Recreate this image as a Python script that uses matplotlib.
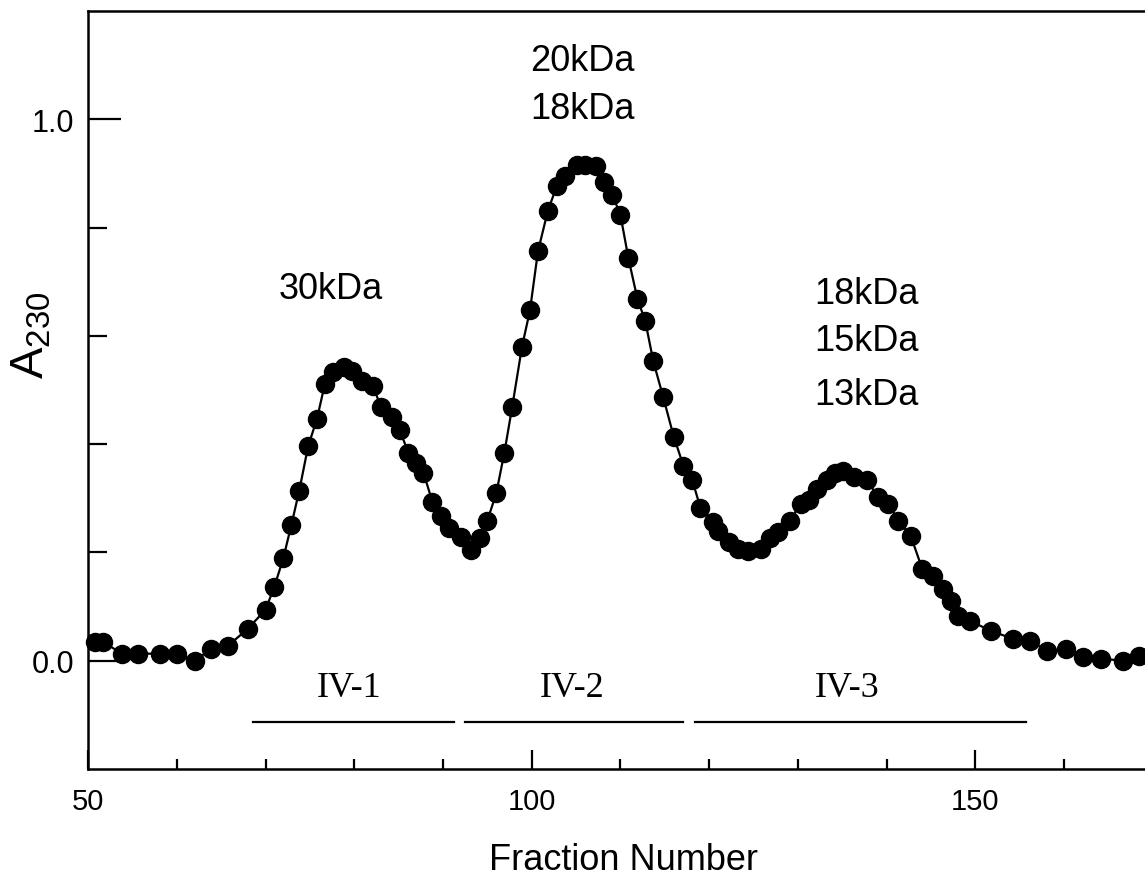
import numpy as np
import matplotlib
matplotlib.use("Agg")
import matplotlib.pyplot as plt
from matplotlib.ticker import FixedLocator

plt.rcParams['font.family'] = ['Liberation Sans', 'DejaVu Sans']
plt.rcParams['mathtext.default'] = 'regular'

# fraction number vs absorbance at 230 nm
fraction = [50.8, 51.7, 53.8, 55.6, 58.1, 60.0, 62.0, 63.9, 65.8, 68.0,
            70.0, 71.0, 72.0, 72.9, 73.8, 74.8, 75.8, 76.7, 77.6, 78.8,
            79.8, 80.9, 82.1, 83.0, 84.2, 85.1, 86.1, 87.0, 87.8, 88.8,
            89.8, 90.7, 92.0, 93.2, 94.2, 95.0, 96.0, 96.9, 97.8, 98.9,
            99.8, 100.7, 101.8, 102.8, 103.8, 105.1, 106.0, 107.2, 108.1, 109.1,
            110.0, 110.9, 111.9, 112.8, 113.7, 114.8, 116.0, 117.1, 118.1, 119.0,
            120.4, 121.0, 122.2, 123.3, 124.4, 125.8, 126.9, 127.8, 129.1, 130.3,
            131.2, 132.2, 133.3, 134.2, 135.1, 136.3, 137.8, 139.0, 140.2, 141.3,
            142.7, 144.0, 145.2, 146.4, 147.2, 148.0, 149.4, 151.7, 154.2, 156.2,
            158.1, 160.2, 162.1, 164.1, 166.6, 168.4]
a230 = [0.035, 0.035, 0.013, 0.013, 0.013, 0.013, 0.000, 0.022, 0.028, 0.059,
        0.094, 0.137, 0.189, 0.250, 0.314, 0.396, 0.447, 0.512, 0.534, 0.543,
        0.536, 0.516, 0.508, 0.469, 0.451, 0.427, 0.384, 0.366, 0.347, 0.294,
        0.268, 0.246, 0.229, 0.205, 0.227, 0.259, 0.309, 0.383, 0.469, 0.580,
        0.647, 0.756, 0.830, 0.876, 0.896, 0.915, 0.915, 0.913, 0.885, 0.860,
        0.823, 0.743, 0.669, 0.627, 0.553, 0.488, 0.414, 0.360, 0.333, 0.283,
        0.257, 0.240, 0.220, 0.207, 0.203, 0.207, 0.226, 0.238, 0.259, 0.290,
        0.296, 0.318, 0.333, 0.346, 0.351, 0.340, 0.333, 0.303, 0.290, 0.259,
        0.231, 0.170, 0.157, 0.133, 0.111, 0.083, 0.074, 0.055, 0.041, 0.037,
        0.018, 0.022, 0.007, 0.004, 0.000, 0.009]

# pooled fractions (bars under the peaks)
pool_names = ['IV-1', 'IV-2', 'IV-3']
pool_start = [68.6, 92.5, 118.4]
pool_end = [91.2, 117.0, 155.7]
pool_label_x = [79.4, 104.5, 135.5]

# molecular weight notes above each peak
mw_labels = ['30kDa', '20kDa', '18kDa', '18kDa', '15kDa', '13kDa']
mw_x = [77.3, 105.7, 105.7, 137.7, 137.7, 137.7]
mw_y = [0.688, 1.109, 1.020, 0.678, 0.592, 0.492]

fig = plt.figure(figsize=(11.45, 8.79), dpi=100)
ax = fig.add_axes([0.0769, 0.124, 0.930, 0.8623])

ax.plot(fraction, a230, color='black', lw=1.6, marker='o', ms=13,
        mfc='black', mec='black', zorder=3, clip_on=False)

for name, x0, x1, xl in zip(pool_names, pool_start, pool_end, pool_label_x):
    ax.plot([x0, x1], [-0.113, -0.113], color='black', lw=1.6)
    ax.text(xl, -0.05, name, ha='center', va='center', fontsize=26,
            family='Liberation Serif')

for lab, x, y in zip(mw_labels, mw_x, mw_y):
    ax.text(x, y, lab, ha='center', va='center', fontsize=26)

ax.set_xlim(50, 170)
ax.set_ylim(-0.2, 1.2)

ax.xaxis.set_major_locator(FixedLocator([50, 100, 150]))
ax.xaxis.set_minor_locator(FixedLocator([60, 70, 80, 90, 110, 120, 130, 140, 160, 170]))
ax.yaxis.set_major_locator(FixedLocator([0.0, 1.0]))
ax.yaxis.set_minor_locator(FixedLocator([0.2, 0.4, 0.6, 0.8]))
ax.set_yticklabels(['0.0', '1.0'])

ax.tick_params(axis='x', which='major', direction='in', length=13.5, width=1.6,
               labelsize=21, pad=13)
ax.tick_params(axis='x', which='minor', direction='in', length=7, width=1.6)
ax.tick_params(axis='y', which='major', direction='in', length=24, width=1.6,
               labelsize=22, pad=10)
ax.tick_params(axis='y', which='minor', direction='in', length=14, width=1.6)

for side in ['left', 'bottom', 'top', 'right']:
    ax.spines[side].set_linewidth(1.8)

ax.set_xlabel('Fraction Number', fontsize=26)
ax.xaxis.set_label_coords(0.503, -0.119)
ax.xaxis.label.set_va('center')
ax.set_ylabel('A$_{230}$', fontsize=34)
ax.yaxis.set_label_coords(-0.053, 0.574)
ax.yaxis.label.set_va('center')

fig.savefig('out.png', dpi=100)
